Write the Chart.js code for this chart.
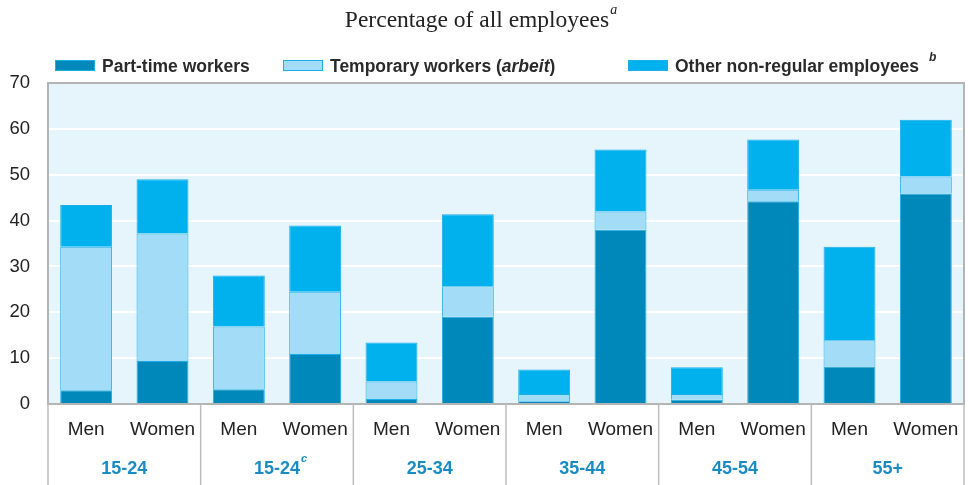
<!DOCTYPE html>
<html>
<head>
<meta charset="utf-8">
<script src="https://cdn.jsdelivr.net/npm/chart.js@4.4.0/dist/chart.umd.min.js"></script>
<style>
html, body { margin: 0; padding: 0; background: #fff; }
</style>
</head>
<body>
<canvas id="chart" width="968" height="485"></canvas>
<script>
// data (percentage of all employees)
const groups = ["15-24", "15-24", "25-34", "35-44", "45-54", "55+"];
const groupNotes = ["", "c", "", "", "", ""];
const sexes = ["Men", "Women"];

const partTime  = [3.0, 9.4, 3.2, 10.9, 1.1, 19.0, 0.6, 38.0, 0.9, 44.2, 8.2, 45.9];
const temporary = [31.3, 27.8, 13.7, 13.6, 3.8, 6.7, 1.6, 4.0, 1.3, 2.5, 5.7, 3.7];
const otherNonRegular = [9.1, 11.8, 11.1, 14.4, 8.5, 15.7, 5.3, 13.5, 5.8, 11.0, 20.4, 12.4];

const yTicks = [0, 10, 20, 30, 40, 50, 60, 70];

const labels = [];
groups.forEach(() => sexes.forEach(s => labels.push(s)));

const colPart = "#0088bb";
const colTemp = "#a2dcf6";
const colOther = "#00b1ee";
const colEdge = "#1aaee8";

const legendItems = [
    { color: colPart, x: 55, parts: [["Part-time workers", "bold"]] },
    { color: colTemp, x: 283, parts: [["Temporary workers (", "bold"], ["arbeit", "italic bold"], [")", "bold"]] },
    { color: colOther, x: 628, parts: [["Other non-regular employees", "bold"]], note: "b" }
];

const decorPlugin = {
    id: "decor",
    beforeDraw(chart) {
        const ctx = chart.ctx;
        const a = chart.chartArea;
        ctx.save();
        ctx.fillStyle = "#e6f5fc";
        ctx.fillRect(a.left, a.top, a.right - a.left, a.bottom - a.top);
        ctx.restore();
    },
    afterDraw(chart) {
        const ctx = chart.ctx;
        const a = chart.chartArea;
        const x = chart.scales.x;
        ctx.save();

        // plot frame (top + right)
        ctx.strokeStyle = "#b4b4b4";
        ctx.lineWidth = 2;
        ctx.beginPath();
        ctx.moveTo(a.left, a.top);
        ctx.lineTo(a.right, a.top);
        ctx.lineTo(a.right, a.bottom);
        ctx.stroke();

        // group separators under the axis
        ctx.lineWidth = 1.5;
        ctx.strokeStyle = "#bdbdbd";
        for (let g = 0; g <= groups.length; g++) {
            let px;
            if (g === 0) px = a.left;
            else if (g === groups.length) px = a.right;
            else px = (x.getPixelForValue(2 * g - 1) + x.getPixelForValue(2 * g)) / 2;
            ctx.beginPath();
            ctx.moveTo(px, a.bottom);
            ctx.lineTo(px, chart.height);
            ctx.stroke();
        }

        // group labels
        ctx.fillStyle = "#1a8cc4";
        ctx.textBaseline = "middle";
        ctx.textAlign = "center";
        groups.forEach((g, i) => {
            const cx = (x.getPixelForValue(2 * i) + x.getPixelForValue(2 * i + 1)) / 2;
            ctx.font = "bold 18px 'Liberation Sans Narrow', 'Liberation Sans', Arial";
            ctx.fillText(g, cx, 469);
            if (groupNotes[i]) {
                const w = ctx.measureText(g).width;
                ctx.font = "italic bold 11px 'Liberation Sans Narrow', 'Liberation Sans', Arial";
                ctx.textAlign = "left";
                ctx.fillText(groupNotes[i], cx + w / 2 + 1, 459);
                ctx.textAlign = "center";
            }
        });

        // title
        ctx.fillStyle = "#222";
        ctx.textBaseline = "alphabetic";
        ctx.textAlign = "left";
        ctx.font = "23.5px 'Liberation Serif', 'Times New Roman', serif";
        const title = "Percentage of all employees";
        const tw = ctx.measureText(title).width;
        const tx = 477 - tw / 2;
        ctx.fillText(title, tx, 27);
        ctx.font = "italic 14px 'Liberation Serif', 'Times New Roman', serif";
        ctx.fillText("a", tx + tw + 1, 14);

        // legend
        legendItems.forEach(item => {
            ctx.fillStyle = item.color;
            ctx.fillRect(item.x, 60, 40, 11);
            ctx.strokeStyle = colEdge;
            ctx.lineWidth = 1;
            ctx.strokeRect(item.x + 0.5, 60.5, 39, 10);
            let px = item.x + 47;
            ctx.fillStyle = "#2a2a2a";
            item.parts.forEach(([txt, style]) => {
                ctx.font = style + " 17.5px 'Liberation Sans', Arial";
                ctx.fillText(txt, px, 72);
                px += ctx.measureText(txt).width;
            });
            if (item.note) {
                ctx.font = "italic bold 12px 'Liberation Sans', Arial";
                ctx.fillText(item.note, px + 10, 61);
            }
        });
        ctx.restore();
    }
};

new Chart(document.getElementById("chart"), {
    type: "bar",
    data: {
        labels: labels,
        datasets: [
            { label: "Part-time workers", data: partTime, backgroundColor: colPart, borderColor: colEdge, borderWidth: 1 },
            { label: "Temporary workers (arbeit)", data: temporary, backgroundColor: colTemp, borderColor: colEdge, borderWidth: 1 },
            { label: "Other non-regular employees", data: otherNonRegular, backgroundColor: colOther, borderColor: colEdge, borderWidth: 1 }
        ]
    },
    options: {
        responsive: false,
        animation: false,
        layout: { padding: { top: 83, right: 4, left: 0, bottom: 0 } },
        datasets: { bar: { categoryPercentage: 0.68, barPercentage: 1 } },
        plugins: {
            legend: { display: false },
            title: { display: false },
            tooltip: { enabled: false }
        },
        scales: {
            x: {
                stacked: true,
                grid: { display: false },
                border: { display: true, color: "#b4b4b4", width: 2 },
                ticks: {
                    color: "#222",
                    padding: 6,
                    maxRotation: 0,
                    autoSkip: false,
                    font: { family: "'Liberation Sans Narrow', 'Liberation Sans', Arial", size: 19 }
                },
                afterFit(scale) { scale.height = 81; }
            },
            y: {
                stacked: true,
                min: 0,
                max: 70,
                afterBuildTicks(scale) { scale.ticks = yTicks.map(v => ({ value: v })); },
                grid: { color: "#ffffff", lineWidth: 2, drawTicks: false },
                border: { display: true, color: "#b4b4b4", width: 2 },
                ticks: {
                    color: "#222",
                    padding: 18,
                    font: { family: "'Liberation Sans', Arial", size: 18.5 }
                },
                afterFit(scale) { scale.width = 48; }
            }
        }
    },
    plugins: [decorPlugin]
});
</script>
</body>
</html>
